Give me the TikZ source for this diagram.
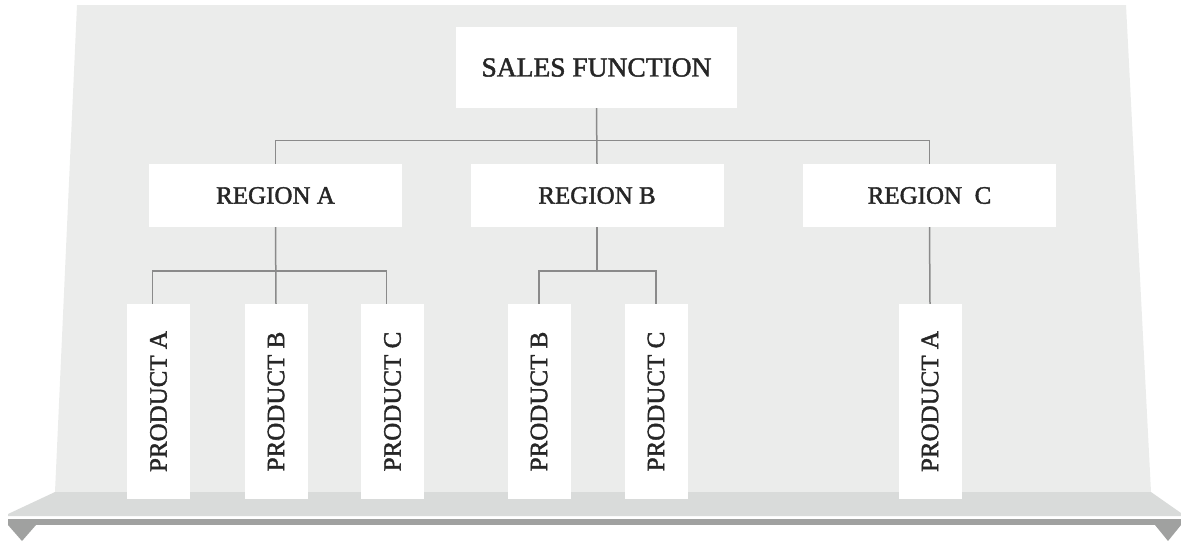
\documentclass[tikz,border=0pt]{standalone}
\usepackage{fontspec}
\setmainfont{Liberation Serif}
\newfontfamily\boxfont{Liberation Serif}[FakeBold=1.6]
\definecolor{wallgray}{HTML}{EBECEB}
\definecolor{shelfgray}{HTML}{D9DBDA}
\definecolor{railgray}{HTML}{A0A1A0}
\definecolor{linkgray}{HTML}{8A8A8A}
\definecolor{textgray}{HTML}{262626}

\begin{document}
\begin{tikzpicture}[x=1pt, y=-1pt]
	\tikzstyle{topbox}=[rectangle, fill=white, text=textgray,
	minimum width=281pt, minimum height=81pt, inner sep=0pt,
	font=\boxfont\fontsize{27.5}{30}\selectfont]
	\tikzstyle{regionbox}=[rectangle, fill=white, text=textgray,
	minimum width=253pt, minimum height=63pt, inner sep=0pt,
	font=\boxfont\fontsize{25}{28}\selectfont]
	\tikzstyle{productbox}=[rectangle, fill=white, text=textgray,
	minimum width=195pt, minimum height=63pt, inner sep=0pt, rotate=90,
	font=\boxfont\fontsize{25}{28}\selectfont]
	\tikzstyle{link}=[linkgray, line width=1.5pt]

	\useasboundingbox (0,0) rectangle (1181,542);

	% wall and shelf
	\fill[wallgray] (77,5) -- (1126,5) -- (1151,492) -- (55,492) -- cycle;
	\fill[shelfgray] (55,492) -- (1151,492) -- (1181,513) -- (1181,516)
	-- (8,516) -- (8,514) -- cycle;
	\fill[railgray] (8,519) rectangle (1181,525);
	\fill[railgray] (8,525) -- (36,525) -- (22,541) -- cycle;
	\fill[railgray] (1155,525) -- (1181,525) -- (1168,541) -- cycle;

	\node[topbox] at (596.5,67.5) (sales) {SALES FUNCTION};

	\node[regionbox] at (275.5,195.5) (regA) {REGION A};
	\node[regionbox] at (597,195.5) (regB) {REGION B};
	\node[regionbox] at (929.5,195.5) (regC) {REGION\ \ C};

	\node[productbox] at (158.5,401.5) (regAprodA) {PRODUCT A};
	\node[productbox] at (276,401.5) (regAprodB) {PRODUCT B};
	\node[productbox] at (392.5,401.5) (regAprodC) {PRODUCT C};
	\node[productbox] at (539,401.5) (regBprodB) {PRODUCT B};
	\node[productbox] at (656,401.5) (regBprodC) {PRODUCT C};
	\node[productbox] at (930,401.5) (regCprodA) {PRODUCT A};

	\draw[link] (sales.south) -- +(0,32.5) -| (regA.north);
	\draw[link] (sales.south) -- (regB.north);
	\draw[link] (sales.south) -- +(0,32.5) -| (regC.north);

	\draw[link] (regA.south) -- +(0,44) -| ([xshift=-6pt]regAprodA.east);
	\draw[link] (regA.south) -- (regAprodB.east);
	\draw[link] (regA.south) -- +(0,44) -| ([xshift=-6pt]regAprodC.east);

	\draw[link] (regB.south) -- +(0,44) -| (regBprodB.east);
	\draw[link] (regB.south) -- +(0,44) -| (regBprodC.east);

	\draw[link] (regC.south) -- (regCprodA.east);
\end{tikzpicture}
\end{document}
